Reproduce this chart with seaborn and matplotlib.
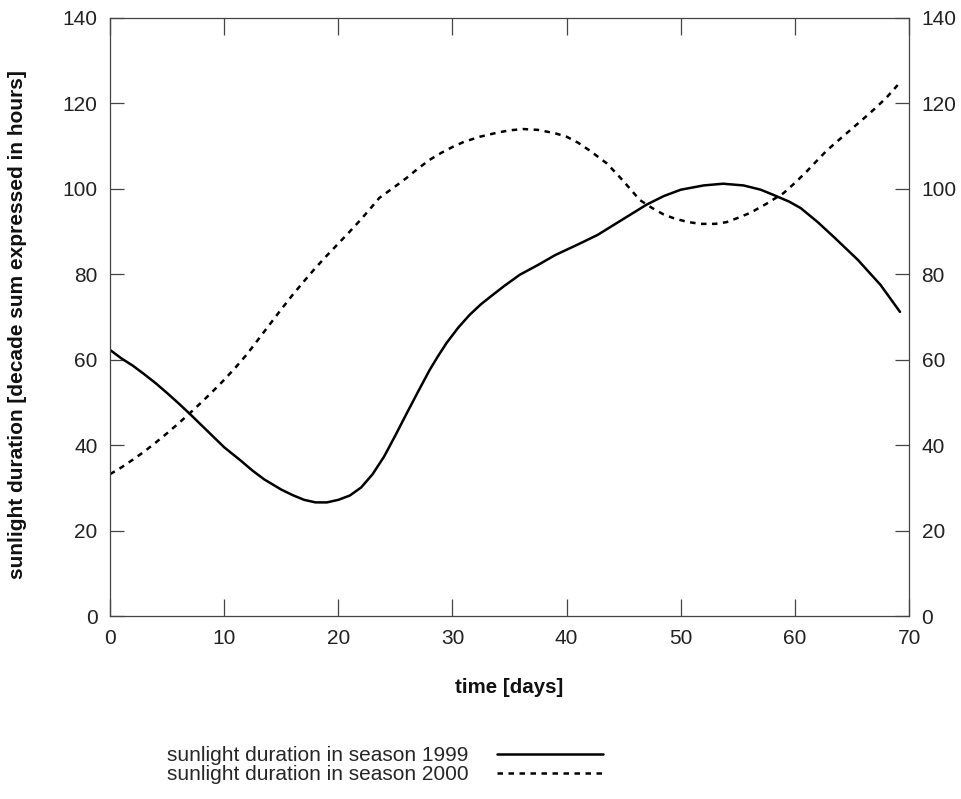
import matplotlib
matplotlib.use("Agg")
import matplotlib.pyplot as plt
import seaborn as sns
import pandas as pd

# sunlight duration, season 1999 (solid line)
days_1999 = [0, 1, 2, 3, 4, 5, 6, 7, 8, 9, 10, 11.4, 12.5, 13.5, 15, 16, 17, 18, 19, 20,
             21, 22, 23, 24, 25, 26, 27, 28, 28.7, 29.5, 30.5, 31.5, 32.5, 33.3, 34.5, 35.9,
             37.5, 39, 41, 42.7, 45, 47, 48.5, 50, 52, 53.7, 55.5, 57, 58.1, 59.5, 60.5,
             62, 63.5, 65.5, 67.5, 69.2]
hours_1999 = [62.3, 60.3, 58.6, 56.6, 54.5, 52.2, 49.8, 47.3, 44.7, 42.1, 39.5, 36.5, 34.0,
              32.0, 29.6, 28.3, 27.2, 26.6, 26.6, 27.2, 28.2, 30.1, 33.2, 37.3, 42.3, 47.5,
              52.6, 57.6, 60.7, 64.0, 67.5, 70.5, 73.0, 74.7, 77.2, 79.9, 82.2, 84.5, 87.0,
              89.2, 93.0, 96.3, 98.3, 99.8, 100.8, 101.2, 100.8, 99.8, 98.6, 97.0, 95.5,
              92.2, 88.5, 83.4, 77.5, 71.2]

# sunlight duration, season 2000 (dashed line)
days_2000 = [0, 1, 2, 3, 4, 5, 6, 7, 8, 9, 10, 11, 12, 13, 14, 15, 16, 17, 18, 19, 20, 21,
             22, 23, 23.6, 25, 26, 27, 28, 29, 30, 31, 32.4, 34, 35, 36.2, 37.5, 39, 40, 41,
             42, 43.5, 44.5, 45.5, 46.4, 47.5, 48.5, 49.3, 50.5, 51.7, 53, 54, 55, 56.1,
             57.5, 59, 60, 61, 62, 62.8, 64, 65.3, 66.6, 68, 69]
hours_2000 = [33.2, 34.8, 36.6, 38.5, 40.6, 42.8, 45.1, 47.5, 50.0, 52.6, 55.3, 58.2, 61.3,
              64.8, 68.3, 71.8, 75.2, 78.4, 81.5, 84.4, 87.2, 90.0, 92.9, 96.0, 97.9, 100.6,
              102.6, 104.8, 106.8, 108.4, 109.8, 111.0, 112.2, 113.2, 113.7, 114.0, 113.8,
              113.0, 112.2, 110.8, 109.0, 106.0, 103.2, 100.2, 97.4, 95.5, 94.0, 93.2, 92.3,
              91.8, 91.8, 92.2, 93.2, 94.4, 96.5, 99.0, 101.4, 104.0, 106.8, 109.0, 111.8,
              114.8, 117.8, 121.3, 124.3]

labels = ["sunlight duration in season 1999", "sunlight duration in season 2000"]
x_ticks = list(range(0, 71, 10))
y_ticks = list(range(0, 141, 20))

sns.set_style("ticks")
plt.rcParams["font.family"] = ["Liberation Sans", "DejaVu Sans"]

df1 = pd.DataFrame({"day": days_1999, "hours": hours_1999})
df2 = pd.DataFrame({"day": days_2000, "hours": hours_2000})

fig = plt.figure(figsize=(9.61, 7.99), dpi=100)
ax = fig.add_axes([0.1145, 0.229, 0.8315, 0.7485])

sns.lineplot(data=df1, x="day", y="hours", ax=ax, color="black", lw=1.8, label=labels[0])
sns.lineplot(data=df2, x="day", y="hours", ax=ax, color="black", lw=1.8, label=labels[1],
             linestyle=(0, (2.2, 2.2)))

ax.set_xlim(0, 70)
ax.set_ylim(0, 140)
ax.set_xticks(x_ticks)
ax.set_yticks(y_ticks)

for s in ax.spines.values():
    s.set_visible(True)
    s.set_linewidth(0.9)
    s.set_color("#444444")

ax.tick_params(axis="x", direction="in", length=12, width=0.9, color="#444444",
               top=True, bottom=True, labelsize=15, pad=9, labelcolor="#222222")
ax.tick_params(axis="y", direction="in", length=10, width=0.9, color="#444444",
               left=True, right=True, labelleft=True, labelright=True,
               labelsize=15, pad=9, labelcolor="#222222")

ax.set_xlabel("time [days]", fontsize=14.8, fontweight="bold", labelpad=22,
              color="#111111")
ax.set_ylabel("sunlight duration [decade sum expressed in hours]", fontsize=15,
              fontweight="bold", color="#111111")
ax.yaxis.set_label_coords(-0.104, 0.487)

ax.legend(loc="upper left", bbox_to_anchor=(0.174, 0.066), bbox_transform=fig.transFigure,
          frameon=False, markerfirst=False, fontsize=15, handlelength=5.1,
          handletextpad=1.35, labelspacing=-0.02, borderpad=0, borderaxespad=0)

fig.savefig("out.png", dpi=100)
